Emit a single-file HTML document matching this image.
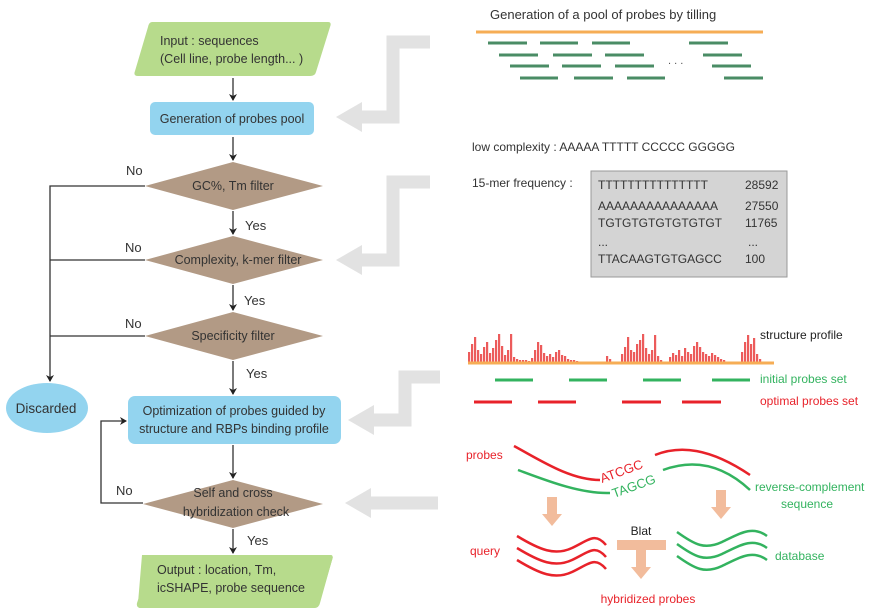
<!DOCTYPE html>
<html><head><meta charset="utf-8"><style>
body{margin:0;background:#fff;}
svg{display:block;font-family:"Liberation Sans",Arial,sans-serif;}
</style></head><body>
<svg id="fig" width="885" height="613" viewBox="0 0 885 613">
<defs>
<marker id="ah" markerWidth="8" markerHeight="8" refX="6" refY="4" orient="auto" markerUnits="userSpaceOnUse"><path d="M0,0 L7,4 L0,8 L2,4 Z" fill="#222"/></marker>
</defs>

<!-- gray guide arrows -->
<g fill="none" stroke="#e2e2e2" stroke-width="13">
<path d="M430,42 L393,42 L393,117 L360,117"/>
<path d="M430,182 L393,182 L393,260 L360,260"/>
<path d="M440,377 L405,377 L405,420 L372,420"/>
<path d="M438,503 L370,503"/>
</g>
<g fill="#e2e2e2">
<polygon points="336,117 362,102 362,132"/>
<polygon points="336,260 362,245 362,275"/>
<polygon points="348,420 374,405 374,435"/>
<polygon points="345,503 371,488 371,518"/>
</g>

<!-- flowchart -->
<g font-size="12.5" fill="#333">
<path d="M152,22 L328,22 Q332,22 330,27 L316,72 Q315,76 310,76 L138,76 Q133,76 135,71 L148,27 Q149,22 152,22 Z" fill="#b7db8c"/>
<text x="160" y="45">Input : sequences</text>
<text x="160" y="63">(Cell line, probe length... )</text>

<rect x="150" y="102" width="164" height="33" rx="5" fill="#93d4ef"/>
<text x="232" y="123" text-anchor="middle">Generation of probes pool</text>

<polygon points="145,186 233,162 323,186 233,210" fill="#b29a85"/>
<text x="233" y="190" text-anchor="middle">GC%, Tm filter</text>
<polygon points="145,260 233,236 323,260 233,284" fill="#b29a85"/>
<text x="238" y="264" text-anchor="middle">Complexity, k-mer filter</text>
<polygon points="145,336 233,312 323,336 233,360" fill="#b29a85"/>
<text x="233" y="340" text-anchor="middle">Specificity filter</text>

<rect x="128" y="396" width="213" height="48" rx="7" fill="#93d4ef"/>
<text x="234" y="415" text-anchor="middle">Optimization of  probes guided by</text>
<text x="234" y="433" text-anchor="middle">structure and RBPs binding profile</text>

<polygon points="143,504 233,480 323,504 233,528" fill="#b29a85"/>
<text x="233" y="497" text-anchor="middle">Self and cross</text>
<text x="236" y="516" text-anchor="middle">hybridization check</text>

<path d="M142,555 L330,555 Q334,555 332,560 L320,603 Q319,608 314,608 L142,608 Q136,608 138,603 L137,603 L138,603 Z" fill="#b7db8c"/>
<path d="M142,555 L330,555 Q334,555 332,560 L319,604 Q318,608 313,608 L141,608 Q136,608 137,603 L138,600 L155,560 Q157,555 142,555 Z" fill="#b7db8c"/>
<path d="M155,555 L330,555 Q334,555 332,560 L319,604 Q318,608 313,608 L141,608 Q136,608 138,603 L151,559 Q152,555 155,555 Z" fill="#b7db8c"/>
<text x="157" y="574">Output : location, Tm,</text>
<text x="157" y="592">icSHAPE, probe sequence</text>

<ellipse cx="47" cy="408" rx="41" ry="25" fill="#93d4ef"/>
<text x="46" y="413" text-anchor="middle" font-size="13.5">Discarded</text>

<g stroke="#333" stroke-width="1.3" fill="none">
<line x1="233" y1="78" x2="233" y2="100" marker-end="url(#ah)"/>
<line x1="233" y1="137" x2="233" y2="160" marker-end="url(#ah)"/>
<line x1="233" y1="211" x2="233" y2="234" marker-end="url(#ah)"/>
<line x1="233" y1="285" x2="233" y2="310" marker-end="url(#ah)"/>
<line x1="233" y1="361" x2="233" y2="394" marker-end="url(#ah)"/>
<line x1="233" y1="445" x2="233" y2="478" marker-end="url(#ah)"/>
<line x1="233" y1="529" x2="233" y2="553" marker-end="url(#ah)"/>
<polyline points="145,186 50,186 50,381" marker-end="url(#ah)"/>
<line x1="145" y1="260" x2="50" y2="260"/>
<line x1="145" y1="336" x2="50" y2="336"/>
<polyline points="143,503 101,503 101,421 126,421" marker-end="url(#ah)"/>
</g>
<text x="126" y="175" font-size="13">No</text>
<text x="125" y="252" font-size="13">No</text>
<text x="125" y="328" font-size="13">No</text>
<text x="116" y="495" font-size="13">No</text>
<text x="245" y="230" font-size="13">Yes</text>
<text x="244" y="305" font-size="13">Yes</text>
<text x="246" y="378" font-size="13">Yes</text>
<text x="247" y="545" font-size="13">Yes</text>
</g>

<!-- tiling panel -->
<text x="490" y="19" font-size="13" fill="#333">Generation of a pool of probes by tilling</text>
<line x1="476" y1="32" x2="763" y2="32" stroke="#f6ad55" stroke-width="3"/>
<g id="tiles" stroke="#4a8c65" stroke-width="3"></g>
<text x="668" y="64" font-size="11" fill="#555">. . .</text>

<!-- complexity panel -->
<g font-size="12" fill="#333">
<text x="472" y="151">low complexity : AAAAA  TTTTT  CCCCC  GGGGG</text>
<text x="472" y="187">15-mer frequency :</text>
<rect x="591" y="171" width="196" height="106" fill="#d4d4d4" stroke="#999"/>
<text x="598" y="189">TTTTTTTTTTTTTTT</text><text x="745" y="189">28592</text>
<text x="598" y="210">AAAAAAAAAAAAAAA</text><text x="745" y="210">27550</text>
<text x="598" y="227">TGTGTGTGTGTGTGT</text><text x="745" y="227">11765</text>
<text x="598" y="246">...</text><text x="748" y="246">...</text>
<text x="598" y="263">TTACAAGTGTGAGCC</text><text x="745" y="263">100</text>
</g>

<!-- structure panel -->
<g id="bars" fill="#ec5b5b"></g>
<line x1="468" y1="363" x2="774" y2="363" stroke="#f6ad55" stroke-width="3"/>
<text x="760" y="339" font-size="12" fill="#222">structure profile</text>
<g id="sets" stroke-width="3"></g>
<text x="760" y="383" font-size="12" fill="#33b35f">initial probes set</text>
<text x="760" y="405" font-size="12" fill="#e8222a">optimal probes set</text>

<!-- hybridization panel -->
<g fill="none" stroke-width="2.5">
<path d="M514,446 C540,460 570,480 600,480" stroke="#e8222a"/>
<path d="M655,455 C680,445 710,448 750,475" stroke="#e8222a"/>
<path d="M518,470 C545,480 580,494 610,493" stroke="#33b35f"/>
<path d="M663,470 C690,460 720,462 750,490" stroke="#33b35f"/>
<path d="M517,536 C540,550 555,556 572,548 S595,532 606,545" stroke="#e8222a"/>
<path d="M517,548 C540,562 555,568 572,560 S595,544 606,557" stroke="#e8222a"/>
<path d="M517,560 C540,574 555,580 572,572 S595,556 606,569" stroke="#e8222a"/>
<path d="M677,532 C695,545 705,550 722,542 S752,525 767,536" stroke="#33b35f"/>
<path d="M677,544 C695,557 705,562 722,554 S752,537 767,548" stroke="#33b35f"/>
<path d="M677,556 C695,569 705,574 722,566 S752,549 767,560" stroke="#33b35f"/>
</g>
<text x="602" y="483" font-size="13" fill="#e8222a" transform="rotate(-20 602 483)">ATCGC</text>
<text x="614" y="498" font-size="13" fill="#33b35f" transform="rotate(-20 614 498)">TAGCG</text>
<text x="466" y="459" font-size="12" fill="#e8222a">probes</text>
<text x="755" y="491" font-size="12" fill="#33b35f">reverse-complement</text>
<text x="807" y="508" font-size="12" fill="#33b35f" text-anchor="middle">sequence</text>
<text x="470" y="555" font-size="12" fill="#e8222a">query</text>
<text x="775" y="560" font-size="12" fill="#33b35f">database</text>
<text x="641" y="535" font-size="12" fill="#222" text-anchor="middle">Blat</text>
<text x="648" y="603" font-size="12" fill="#e8222a" text-anchor="middle">hybridized probes</text>
<g fill="#f2bc9c">
<rect x="547" y="497" width="10" height="18"/><polygon points="542,514 562,514 552,526"/>
<rect x="716" y="490" width="10" height="18"/><polygon points="711,507 731,507 721,519"/>
<rect x="617" y="540" width="49" height="10"/><rect x="636" y="550" width="10" height="18"/><polygon points="631,567 651,567 641,579"/>
</g>
</svg>
<script>
// structure profile heights (px above baseline), one bar per 3px
const structHeights = [10,18,25,12,8,15,20,9,14,22,28,16,7,12,28,5,3,2, 2,2,1, 4,12,20,17,9,6,8,5,10,12,7,6,3,2,2,1, 0,0,0,0,0,0,0,0,0, 6,3, 0,0,0, 8,15,25,12,10,18,22,28,14,8,12,27,6,2, 0,0, 5,9,7,12,6,14,10,8,16,20,15,10,8,6,9,7,5,3,2, 0,0,0,0,0, 10,20,27,18,24,8,3, 0,0,0,0];
const initialSet = [[495,533],[569,607],[643,681],[712,750]];
const optimalSet = [[474,512],[538,576],[622,661],[682,721]];
const tileRows = [[[488,527],[540,578],[592,630],[689,728]],[[499,538],[553,592],[605,644],[703,742]],[[510,549],[562,601],[615,654],[712,751]],[[520,558],[574,613],[627,665],[724,763]]];
const tileRowY = [43,55,66,78];
const NS='http://www.w3.org/2000/svg';
const barX0=468, barW=3, baseY=362;
const bx=i=>barX0+i*barW;
const bars=document.getElementById('bars');
structHeights.forEach((h,i)=>{ if(h<=0) return;
  const r=document.createElementNS(NS,'rect');
  r.setAttribute('x',bx(i)); r.setAttribute('y',baseY-h); r.setAttribute('width',barW-0.8); r.setAttribute('height',h);
  
  
  bars.appendChild(r);});
const sets=document.getElementById('sets');
function seg(g,x1,x2,y,c,name){const l=document.createElementNS(NS,'line');
  l.setAttribute('x1',x1);l.setAttribute('x2',x2);l.setAttribute('y1',y);l.setAttribute('y2',y);if(c)l.setAttribute('stroke',c);
  
  
  g.appendChild(l);}
initialSet.forEach(s=>seg(sets,s[0],s[1],380,'#33b35f','initial-probe'));
optimalSet.forEach(s=>seg(sets,s[0],s[1],402,'#e8222a','optimal-probe'));
const tiles=document.getElementById('tiles');
tileRows.forEach((row,r)=>row.forEach(s=>seg(tiles,s[0],s[1],tileRowY[r],null,'tiled-probe')));
</script>
</body></html>
